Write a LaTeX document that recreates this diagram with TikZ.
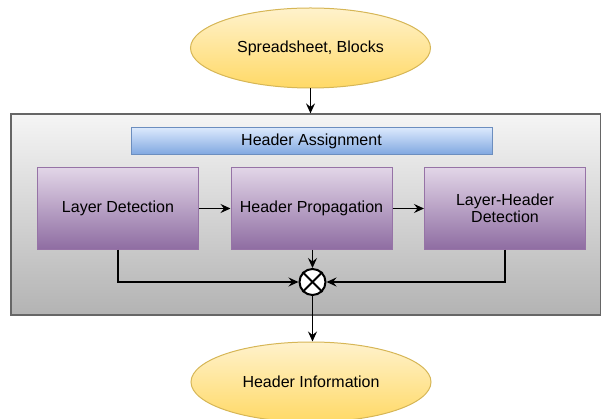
\documentclass[tikz,border=0pt]{standalone}
\usepackage{fontspec}
\setmainfont{Liberation Sans}
\usetikzlibrary{arrows.meta,shapes.geometric}
\definecolor{ybord}{HTML}{D6B656}
\definecolor{ytop}{HTML}{FFF2CC}
\definecolor{ybot}{HTML}{FFD966}
\definecolor{btop}{HTML}{DAE8FC}
\definecolor{bbot}{HTML}{7EA6E0}
\definecolor{bbord}{HTML}{6C8EBF}
\definecolor{ptop}{HTML}{E1D5E7}
\definecolor{pbot}{HTML}{8F6DA2}
\definecolor{pbord}{HTML}{9673A6}
\definecolor{gtop}{HTML}{F5F5F5}
\definecolor{gbot}{HTML}{B3B3B3}
\definecolor{gbord}{HTML}{666666}
\tikzset{
  x=1pt, y=-1pt,
  every node/.style={font=\fontsize{16}{18.5}\selectfont, align=center, inner sep=0pt},
  terminal/.style={ellipse, draw=ybord, line width=1pt, top color=ytop, bottom color=ybot,
    minimum width=240pt, minimum height=80pt},
  stage/.style={rectangle, draw=pbord, line width=1pt, top color=ptop, bottom color=pbot,
    minimum width=161pt, minimum height=81pt},
  banner/.style={rectangle, draw=bbord, line width=1pt, top color=btop, bottom color=bbot,
    minimum width=361pt, minimum height=27pt},
  flow/.style={line width=1.3pt, -{Stealth[length=10pt,width=9pt,inset=3.5pt]}},
}
\begin{document}
\begin{tikzpicture}
\useasboundingbox (0,0) rectangle (601,419);

% outer container with grey gradient
\node[rectangle, draw=gbord, line width=1.2pt, top color=gtop, bottom color=gbot,
  minimum width=590pt, minimum height=201pt] (frame) at (306,214.5) {};

\node[terminal] (src) at (310.5,48) {Spreadsheet, Blocks};
\node[terminal] (out) at (311,382) {Header Information};

\node[banner] (assign) at (311.5,141.5) {Header Assignment};

\node[stage] (layer) at (118,208.5) {Layer Detection};
\node[stage] (prop) at (311.5,208.5) {Header Propagation};
\node[stage] (lhd) at (505,208.5) {Layer-Header\\[-1pt]Detection};

% merge junction
\node[circle, draw=black, fill=white, line width=2pt, minimum size=26pt] (join) at (312.5,282) {};
\draw[line width=2pt] (join.north west) -- (join.south east);
\draw[line width=2pt] (join.north east) -- (join.south west);

\draw[flow] (src.south) -- (frame.north -| src.south);
\draw[flow] (layer) -- (prop);
\draw[flow] (prop) -- (lhd);
\draw[flow] (layer.south) |- (join.west);
\draw[flow] (lhd.south) |- (join.east);
\draw[flow] (prop.south -| join.north) -- (join.north);
\draw[flow] (join.south) -- (out.north -| join.south);
\end{tikzpicture}
\end{document}
